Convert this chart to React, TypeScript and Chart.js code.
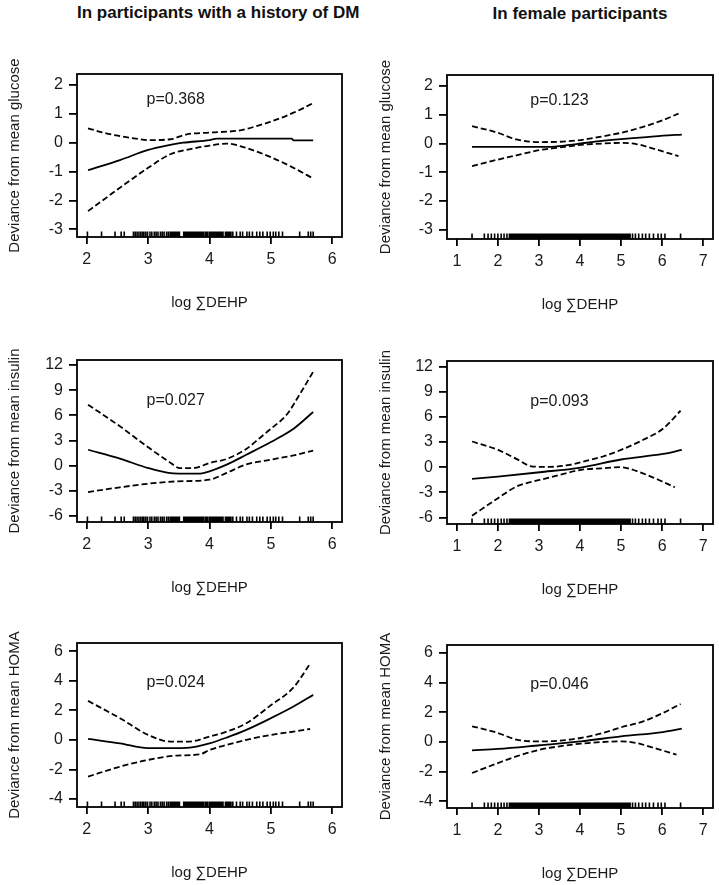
import React, { useEffect, useRef } from "react";
import { Chart, registerables } from "chart.js";

Chart.register(...registerables);

const FONT = "'Liberation Sans', Arial, Helvetica, sans-serif";

// ---------- text ----------
const COLUMN_TITLES = ["In participants with a history of DM", "In female participants"];
const X_LABEL = "log \u2211DEHP";
const Y_LABELS = ["Deviance from mean glucose", "Deviance from mean insulin", "Deviance from mean HOMA"];
const P_TEXTS = ["p=0.368", "p=0.123", "p=0.027", "p=0.093", "p=0.024", "p=0.046"];

// ---------- ticks ----------
const DM_X_TICKS = [2, 3, 4, 5, 6];
const FEM_X_TICKS = [1, 2, 3, 4, 5, 6, 7];
const GLU_Y_TICKS = [-3, -2, -1, 0, 1, 2];
const INS_Y_TICKS = [-6, -3, 0, 3, 6, 9, 12];
const HOMA_Y_TICKS = [-4, -2, 0, 2, 4, 6];

// ---------- rug (observed log ∑DEHP) ----------
const DM_RUG = [2.01, 2.24, 2.46, 2.56, 2.61, 2.76, 2.79, 2.82, 2.85, 2.88, 2.91, 2.93, 2.96, 2.99, 3.03, 3.06, 3.10, 3.13, 3.16, 3.20, 3.23, 3.26, 3.30, 3.33, 3.36, 3.38, 3.39, 3.41, 3.42, 3.44, 3.45, 3.47, 3.49, 3.51, 3.58, 3.60, 3.61, 3.63, 3.65, 3.66, 3.68, 3.70, 3.71, 3.73, 3.75, 3.76, 3.78, 3.80, 3.82, 3.84, 3.86, 3.88, 3.90, 3.93, 3.95, 3.97, 4.00, 4.02, 4.03, 4.05, 4.06, 4.08, 4.10, 4.11, 4.13, 4.15, 4.16, 4.18, 4.20, 4.22, 4.26, 4.28, 4.29, 4.31, 4.33, 4.35, 4.38, 4.44, 4.50, 4.54, 4.61, 4.65, 4.70, 4.77, 4.82, 4.87, 4.94, 4.99, 5.04, 5.08, 5.13, 5.19, 5.47, 5.61, 5.65, 5.69];
const FEM_RUG = [1.37, 1.67, 1.76, 1.84, 1.92, 2.00, 2.08, 2.15, 2.22, 2.28, 2.31, 2.34, 2.37, 2.40, 2.43, 2.46, 2.49, 2.52, 2.55, 2.58, 2.61, 2.64, 2.67, 2.70, 2.73, 2.76, 2.79, 2.82, 2.85, 2.88, 2.91, 2.94, 2.97, 3.00, 3.03, 3.06, 3.09, 3.12, 3.15, 3.18, 3.21, 3.24, 3.27, 3.30, 3.33, 3.36, 3.39, 3.42, 3.45, 3.48, 3.51, 3.54, 3.57, 3.60, 3.63, 3.66, 3.69, 3.72, 3.75, 3.78, 3.81, 3.84, 3.87, 3.90, 3.93, 3.96, 3.99, 4.02, 4.05, 4.08, 4.11, 4.14, 4.17, 4.20, 4.23, 4.26, 4.29, 4.32, 4.35, 4.38, 4.41, 4.44, 4.47, 4.50, 4.53, 4.56, 4.59, 4.62, 4.65, 4.68, 4.71, 4.74, 4.77, 4.80, 4.83, 4.86, 4.89, 4.92, 4.95, 4.98, 5.01, 5.04, 5.07, 5.10, 5.13, 5.16, 5.19, 5.22, 5.28, 5.35, 5.43, 5.52, 5.60, 5.69, 5.79, 5.90, 5.98, 6.07, 6.45];

// ---------- panel 1: glucose, DM ----------
const GLU_DM_FIT_X = [2.02, 2.54, 3.0, 3.3, 3.57, 4.0, 4.12, 5.34, 5.37, 5.69];
const GLU_DM_FIT_Y = [-0.95, -0.6, -0.25, -0.1, 0.0, 0.09, 0.14, 0.14, 0.08, 0.08];
const GLU_DM_UP_X = [2.02, 2.3, 2.54, 2.8, 3.0, 3.36, 3.63, 4.0, 4.5, 4.82, 5.0, 5.37, 5.69];
const GLU_DM_UP_Y = [0.5, 0.33, 0.23, 0.14, 0.09, 0.12, 0.29, 0.35, 0.43, 0.61, 0.73, 1.04, 1.37];
const GLU_DM_LO_X = [2.02, 2.54, 3.0, 3.36, 3.74, 4.0, 4.28, 4.55, 5.0, 5.37, 5.69];
const GLU_DM_LO_Y = [-2.37, -1.56, -0.87, -0.4, -0.2, -0.1, -0.03, -0.15, -0.5, -0.87, -1.24];

// ---------- panel 2: glucose, female ----------
const GLU_F_FIT_X = [1.37, 3.22, 3.75, 4.02, 4.48, 5.0, 5.54, 6.02, 6.48];
const GLU_F_FIT_Y = [-0.12, -0.12, -0.05, 0.0, 0.08, 0.15, 0.21, 0.27, 0.31];
const GLU_F_UP_X = [1.37, 2.0, 2.45, 3.02, 3.5, 4.02, 4.56, 5.0, 5.54, 6.02, 6.4];
const GLU_F_UP_Y = [0.6, 0.37, 0.14, 0.05, 0.06, 0.12, 0.25, 0.37, 0.58, 0.81, 1.04];
const GLU_F_LO_X = [1.37, 2.0, 2.45, 3.02, 3.5, 4.02, 4.56, 5.0, 5.37, 5.86, 6.4];
const GLU_F_LO_Y = [-0.79, -0.56, -0.41, -0.23, -0.14, -0.05, 0.0, 0.02, -0.02, -0.21, -0.44];

// ---------- panel 3: insulin, DM ----------
const INS_DM_FIT_X = [2.02, 2.54, 3.0, 3.33, 3.5, 3.85, 4.0, 4.28, 4.6, 5.0, 5.37, 5.69];
const INS_DM_FIT_Y = [1.9, 0.83, -0.28, -0.87, -0.95, -0.95, -0.68, 0.12, 1.3, 2.82, 4.4, 6.4];
const INS_DM_UP_X = [2.02, 2.54, 3.0, 3.33, 3.52, 3.74, 4.0, 4.28, 4.6, 4.82, 5.0, 5.26, 5.47, 5.69];
const INS_DM_UP_Y = [7.27, 4.69, 2.19, 0.52, -0.28, -0.28, 0.32, 0.8, 2.0, 3.3, 4.4, 6.1, 8.5, 11.2];
const INS_DM_LO_X = [2.02, 2.54, 3.0, 3.47, 4.0, 4.28, 4.6, 5.0, 5.37, 5.69];
const INS_DM_LO_Y = [-3.14, -2.58, -2.15, -1.87, -1.67, -0.85, 0.15, 0.72, 1.23, 1.79];

// ---------- panel 4: insulin, female ----------
const INS_F_FIT_X = [1.37, 2.0, 3.02, 4.02, 5.0, 6.02, 6.48];
const INS_F_FIT_Y = [-1.4, -1.12, -0.6, -0.04, 0.92, 1.58, 2.07];
const INS_F_UP_X = [1.37, 2.0, 2.45, 2.85, 3.26, 3.75, 4.02, 4.56, 5.0, 5.54, 6.02, 6.45];
const INS_F_UP_Y = [3.07, 2.07, 1.0, 0.08, 0.04, 0.28, 0.6, 1.28, 2.07, 3.27, 4.59, 6.74];
const INS_F_LO_X = [1.37, 2.0, 2.45, 3.02, 3.5, 4.02, 4.56, 5.0, 5.37, 5.86, 6.31];
const INS_F_LO_Y = [-5.79, -3.71, -2.31, -1.52, -0.92, -0.32, -0.12, 0.0, -0.44, -1.4, -2.39];

// ---------- panel 5: HOMA, DM ----------
const HOMA_DM_FIT_X = [2.02, 2.54, 3.0, 3.36, 3.68, 4.0, 4.28, 4.6, 5.0, 5.37, 5.69];
const HOMA_DM_FIT_Y = [0.07, -0.23, -0.56, -0.56, -0.52, -0.23, 0.16, 0.68, 1.47, 2.26, 3.05];
const HOMA_DM_UP_X = [2.02, 2.54, 3.0, 3.36, 3.68, 4.0, 4.28, 4.6, 5.0, 5.37, 5.63];
const HOMA_DM_UP_Y = [2.64, 1.47, 0.34, -0.11, -0.11, 0.23, 0.56, 1.13, 2.35, 3.55, 5.1];
const HOMA_DM_LO_X = [2.02, 2.54, 3.0, 3.47, 3.85, 4.0, 4.28, 4.6, 5.0, 5.37, 5.64];
const HOMA_DM_LO_Y = [-2.48, -1.81, -1.35, -1.06, -0.97, -0.68, -0.34, 0.0, 0.34, 0.56, 0.74];

// ---------- panel 6: HOMA, female ----------
const HOMA_F_FIT_X = [1.37, 2.0, 3.02, 4.02, 5.0, 6.02, 6.48];
const HOMA_F_FIT_Y = [-0.56, -0.47, -0.22, 0.04, 0.38, 0.67, 0.9];
const HOMA_F_UP_X = [1.37, 2.0, 2.45, 3.02, 3.5, 4.02, 4.56, 5.0, 5.54, 6.02, 6.45];
const HOMA_F_UP_Y = [1.06, 0.61, 0.16, 0.04, 0.09, 0.27, 0.61, 0.99, 1.39, 1.96, 2.56];
const HOMA_F_LO_X = [1.37, 2.0, 2.45, 3.02, 3.5, 4.02, 4.56, 5.0, 5.37, 5.86, 6.35];
const HOMA_F_LO_Y = [-2.09, -1.42, -0.97, -0.52, -0.29, -0.11, 0.0, 0.04, -0.07, -0.45, -0.85];

// ---------- p-value label anchors (data coords) ----------
const P_X = [3.45, 3.5, 3.45, 3.5, 3.45, 3.5];
const P_Y = [1.5, 1.5, 7.8, 7.8, 3.85, 3.85];

// ---------- layout (page pixels) ----------
type Box = { L: number; T: number; R: number; B: number };
const COLS = [
  { canvasLeft: 0, canvasW: 359, yTitleX: 14.5 },
  { canvasLeft: 359, canvasW: 360, yTitleX: 386 },
];

const PANELS = [
  {
    col: 0, box: { L: 77, T: 74, R: 342, B: 237 }, xr: [1.84, 6.16], yr: [-3.267, 2.381],
    xTicks: DM_X_TICKS, yTicks: GLU_Y_TICKS, rug: DM_RUG, yLabel: Y_LABELS[0], p: P_TEXTS[0], px: P_X[0], py: P_Y[0],
    fit: [GLU_DM_FIT_X, GLU_DM_FIT_Y], up: [GLU_DM_UP_X, GLU_DM_UP_Y], lo: [GLU_DM_LO_X, GLU_DM_LO_Y],
  },
  {
    col: 1, box: { L: 447, T: 75, R: 713, B: 239 }, xr: [0.76, 7.24], yr: [-3.32, 2.38],
    xTicks: FEM_X_TICKS, yTicks: GLU_Y_TICKS, rug: FEM_RUG, yLabel: Y_LABELS[0], p: P_TEXTS[1], px: P_X[1], py: P_Y[1],
    fit: [GLU_F_FIT_X, GLU_F_FIT_Y], up: [GLU_F_UP_X, GLU_F_UP_Y], lo: [GLU_F_LO_X, GLU_F_LO_Y],
  },
  {
    col: 0, box: { L: 77, T: 360, R: 342, B: 522 }, xr: [1.84, 6.16], yr: [-6.715, 12.6],
    xTicks: DM_X_TICKS, yTicks: INS_Y_TICKS, rug: DM_RUG, yLabel: Y_LABELS[1], p: P_TEXTS[2], px: P_X[2], py: P_Y[2],
    fit: [INS_DM_FIT_X, INS_DM_FIT_Y], up: [INS_DM_UP_X, INS_DM_UP_Y], lo: [INS_DM_LO_X, INS_DM_LO_Y],
  },
  {
    col: 1, box: { L: 447, T: 361, R: 713, B: 524 }, xr: [0.76, 7.24], yr: [-6.78, 12.68],
    xTicks: FEM_X_TICKS, yTicks: INS_Y_TICKS, rug: FEM_RUG, yLabel: Y_LABELS[1], p: P_TEXTS[3], px: P_X[3], py: P_Y[3],
    fit: [INS_F_FIT_X, INS_F_FIT_Y], up: [INS_F_UP_X, INS_F_UP_Y], lo: [INS_F_LO_X, INS_F_LO_Y],
  },
  {
    col: 0, box: { L: 77, T: 643, R: 342, B: 807 }, xr: [1.84, 6.16], yr: [-4.54, 6.56],
    xTicks: DM_X_TICKS, yTicks: HOMA_Y_TICKS, rug: DM_RUG, yLabel: Y_LABELS[2], p: P_TEXTS[4], px: P_X[4], py: P_Y[4],
    fit: [HOMA_DM_FIT_X, HOMA_DM_FIT_Y], up: [HOMA_DM_UP_X, HOMA_DM_UP_Y], lo: [HOMA_DM_LO_X, HOMA_DM_LO_Y],
  },
  {
    col: 1, box: { L: 447, T: 645, R: 713, B: 808 }, xr: [0.76, 7.24], yr: [-4.45, 6.54],
    xTicks: FEM_X_TICKS, yTicks: HOMA_Y_TICKS, rug: FEM_RUG, yLabel: Y_LABELS[2], p: P_TEXTS[5], px: P_X[5], py: P_Y[5],
    fit: [HOMA_F_FIT_X, HOMA_F_FIT_Y], up: [HOMA_F_UP_X, HOMA_F_UP_Y], lo: [HOMA_F_LO_X, HOMA_F_LO_Y],
  },
];

const X_AXIS_H = 75;
const TOP_PAD = 30;
const BOTTOM_PAD = 1;

function zip(xs: number[], ys: number[]) {
  return xs.map((x, i) => ({ x, y: ys[i] }));
}

function Panel({ cfg }: { cfg: any }) {
  const ref = useRef<HTMLCanvasElement | null>(null);
  const col = COLS[cfg.col];
  const box: Box = cfg.box;
  const canvasTop = box.T - TOP_PAD;
  const canvasH = box.B - box.T + TOP_PAD + X_AXIS_H + BOTTOM_PAD;
  const yAxisW = box.L - col.canvasLeft;
  const padRight = col.canvasLeft + col.canvasW - box.R;

  useEffect(() => {
    if (!ref.current) return;
    const lineBase = {
      borderColor: "#000",
      backgroundColor: "#000",
      borderWidth: 1.8,
      pointRadius: 0,
      fill: false,
      cubicInterpolationMode: "monotone" as const,
    };
    const decor = {
      id: "rDecor",
      afterDatasetsDraw(chart: any) {
        const { ctx, chartArea: a, scales } = chart;
        const xs = scales.x;
        const ys = scales.y;
        ctx.save();
        // rug
        ctx.strokeStyle = "#000";
        ctx.lineWidth = 1.6;
        ctx.beginPath();
        cfg.rug.forEach((v: number) => {
          const px = xs.getPixelForValue(v);
          ctx.moveTo(px, a.bottom);
          ctx.lineTo(px, a.bottom - 5.5);
        });
        ctx.stroke();
        // box
        ctx.lineWidth = 1.8;
        ctx.strokeRect(a.left, a.top, a.right - a.left, a.bottom - a.top);
        // p-value
        ctx.font = `16px ${FONT}`;
        ctx.fillStyle = "#1a1a1a";
        ctx.textAlign = "center";
        ctx.textBaseline = "middle";
        ctx.fillText(cfg.p, xs.getPixelForValue(cfg.px), ys.getPixelForValue(cfg.py));
        ctx.restore();
      },
    };
    const chart = new Chart(ref.current, {
      type: "line",
      data: {
        datasets: [
          { ...lineBase, data: zip(cfg.fit[0], cfg.fit[1]) },
          { ...lineBase, borderDash: [6, 3], data: zip(cfg.up[0], cfg.up[1]) },
          { ...lineBase, borderDash: [6, 3], data: zip(cfg.lo[0], cfg.lo[1]) },
        ],
      },
      options: {
        responsive: false,
        animation: false,
        events: [],
        layout: { padding: { left: 0, top: TOP_PAD, right: padRight, bottom: BOTTOM_PAD } },
        plugins: { legend: { display: false }, tooltip: { enabled: false }, title: { display: false } },
        scales: {
          x: {
            type: "linear",
            min: cfg.xr[0],
            max: cfg.xr[1],
            afterBuildTicks: (s: any) => {
              s.ticks = cfg.xTicks.map((v: number) => ({ value: v }));
            },
            afterFit: (s: any) => {
              s.height = X_AXIS_H;
            },
            grid: { display: true, drawOnChartArea: false, drawTicks: true, tickLength: 7, color: "#000", lineWidth: 1.8 },
            border: { display: false },
            ticks: {
              autoSkip: false,
              maxRotation: 0,
              padding: 6,
              color: "#1a1a1a",
              font: { family: FONT, size: 16 },
              callback: (v: any) => String(v),
            },
            title: {
              display: true,
              text: X_LABEL,
              color: "#1a1a1a",
              font: { family: FONT, size: 15 },
              padding: { top: 0, bottom: 0 },
            },
          },
          y: {
            type: "linear",
            min: cfg.yr[0],
            max: cfg.yr[1],
            afterBuildTicks: (s: any) => {
              s.ticks = cfg.yTicks.map((v: number) => ({ value: v }));
            },
            afterFit: (s: any) => {
              s.width = yAxisW;
            },
            grid: { display: true, drawOnChartArea: false, drawTicks: true, tickLength: 8, color: "#000", lineWidth: 1.8 },
            border: { display: false },
            ticks: {
              autoSkip: false,
              padding: 6,
              color: "#1a1a1a",
              font: { family: FONT, size: 16 },
              callback: (v: any) => String(v),
            },
            title: {
              display: true,
              text: cfg.yLabel,
              color: "#1a1a1a",
              font: { family: FONT, size: 15 },
              padding: { top: col.yTitleX - col.canvasLeft - 9, bottom: 0 },
            },
          },
        },
      },
      plugins: [decor],
    } as any);
    return () => chart.destroy();
  }, []);

  return (
    <canvas
      ref={ref}
      width={col.canvasW}
      height={canvasH}
      style={{ position: "absolute", left: col.canvasLeft, top: canvasTop, width: col.canvasW, height: canvasH }}
    />
  );
}

export default function App() {
  const titleBoxes = [
    { L: 77, R: 342, top: 2.5 },
    { L: 447, R: 713, top: 4 },
  ];
  return (
    <div
      style={{
        position: "absolute",
        left: 0,
        top: 0,
        width: 719,
        height: 885,
        overflow: "hidden",
        background: "#fff",
      }}
    >
      {COLUMN_TITLES.map((t, i) => (
        <div
          key={t}
          style={{
            position: "absolute",
            left: titleBoxes[i].L,
            width: titleBoxes[i].R - titleBoxes[i].L,
            top: titleBoxes[i].top,
            height: 20,
            lineHeight: "20px",
            textAlign: "center",
            fontFamily: FONT,
            fontWeight: "bold",
            fontSize: 17,
            color: "#111",
            whiteSpace: "nowrap",
          }}
        >
          {t}
        </div>
      ))}
      {PANELS.map((p, i) => (
        <Panel key={i} cfg={p} />
      ))}
    </div>
  );
}
